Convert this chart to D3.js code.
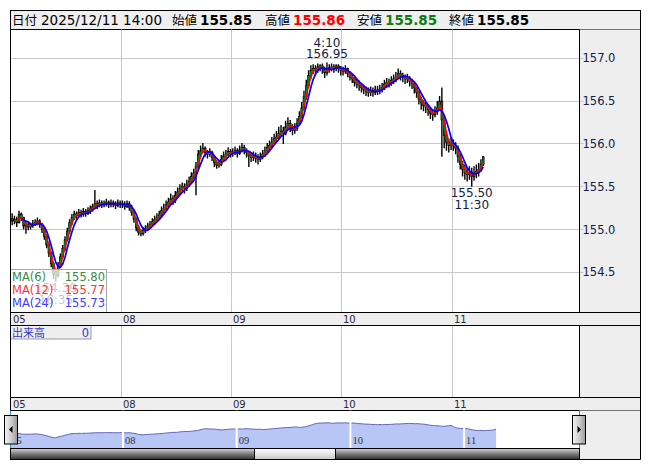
<!DOCTYPE html>
<html>
<head>
<meta charset="utf-8">
<script src="https://cdn.jsdelivr.net/npm/d3@7"></script>
<style>
body { margin: 0; background: #fff; }
text { font-family: "DejaVu Sans", Verdana, sans-serif; }
.jp { font-family: "Noto Sans CJK JP", sans-serif; }
</style>
</head>
<body>
<div id="chart"></div>
<script>

// 30-minute bars, days start 7:00
let days = ["05", "08", "09", "10", "11"];
let barsPerDay = 48;
let firstOpen = 155.13;

let closes = [
  155.10,155.12,155.08,155.18,155.14,155.04,155.06,155.03,155.05,155.07,155.08,155.10,155.06,155.00,154.92,154.82,
  154.72,154.60,154.48,154.46,154.58,154.68,154.78,154.88,154.98,155.08,155.14,155.18,155.16,155.20,155.18,155.21,
  155.19,155.22,155.24,155.27,155.30,155.28,155.31,155.29,155.30,155.32,155.29,155.31,155.30,155.28,155.31,155.30,
  // 08
  155.29,155.27,155.30,155.26,155.20,155.12,155.02,154.97,154.95,154.99,155.01,155.04,155.06,155.09,155.12,155.14,
  155.17,155.22,155.25,155.29,155.32,155.36,155.34,155.40,155.44,155.48,155.50,155.48,155.53,155.56,155.62,155.66,
  155.74,155.88,155.92,155.95,155.90,155.88,155.90,155.84,155.78,155.75,155.76,155.82,155.86,155.88,155.91,155.89,
  // 09
  155.90,155.92,155.89,155.93,155.96,155.92,155.90,155.86,155.84,155.86,155.83,155.82,155.85,155.88,155.92,155.96,
  155.98,156.02,156.06,156.08,156.12,156.15,156.12,156.20,156.24,156.20,156.16,156.18,156.24,156.32,156.42,156.55,
  156.68,156.80,156.86,156.88,156.86,156.90,156.91,156.88,156.83,156.86,156.89,156.90,156.88,156.91,156.88,156.86,
  // 10
  156.85,156.88,156.82,156.78,156.76,156.72,156.70,156.68,156.66,156.63,156.62,156.60,156.62,156.60,156.63,156.62,
  156.64,156.66,156.70,156.72,156.71,156.74,156.76,156.78,156.82,156.80,156.78,156.76,156.77,156.73,156.70,156.66,
  156.60,156.52,156.48,156.45,156.43,156.40,156.36,156.34,156.38,156.42,156.50,156.28,156.10,156.02,155.98,156.00,
  // 11
  155.98,155.95,155.85,155.76,155.70,155.66,155.64,155.67,155.62,155.66,155.68,155.70,155.76,155.85
];

let highs = [
  155.19,155.16,155.15,155.22,155.20,155.15,155.10,155.09,155.08,155.11,155.12,155.14,155.12,155.08,155.02,154.94,
  154.85,154.74,154.62,154.52,154.62,154.72,154.82,154.92,155.02,155.12,155.18,155.22,155.21,155.24,155.23,155.25,
  155.24,155.26,155.28,155.30,155.46,155.34,155.35,155.34,155.34,155.36,155.34,155.35,155.34,155.33,155.35,155.34,
  155.34,155.33,155.34,155.33,155.29,155.22,155.14,155.05,155.00,155.03,155.05,155.08,155.10,155.13,155.16,155.19,
  155.22,155.27,155.30,155.34,155.37,155.42,155.40,155.45,155.49,155.53,155.55,155.54,155.58,155.62,155.67,155.71,
  155.79,155.93,155.98,156.01,155.97,155.93,155.95,155.92,155.86,155.81,155.81,155.87,155.91,155.93,155.96,155.94,
  155.95,155.97,155.95,155.98,156.01,155.99,155.95,155.92,155.90,155.91,155.90,155.88,155.90,155.93,155.97,156.01,
  156.04,156.08,156.12,156.15,156.20,156.22,156.20,156.27,156.31,156.28,156.23,156.24,156.30,156.38,156.49,156.62,
  156.75,156.86,156.92,156.93,156.92,156.94,156.93,156.94,156.90,156.95,156.93,156.94,156.93,156.93,156.93,156.91,
  156.90,156.92,156.89,156.85,156.81,156.78,156.76,156.74,156.71,156.69,156.67,156.66,156.67,156.66,156.68,156.68,
  156.69,156.71,156.75,156.77,156.76,156.79,156.81,156.84,156.88,156.86,156.83,156.81,156.82,156.79,156.76,156.72,
  156.67,156.62,156.55,156.51,156.49,156.46,156.43,156.40,156.44,156.50,156.56,156.66,156.32,156.15,156.06,156.07,
  156.05,156.02,155.98,155.88,155.80,155.76,155.73,155.74,155.72,155.74,155.76,155.78,155.82,155.86
];

let lows = [
  155.05,155.06,155.03,155.07,155.10,155.00,154.95,154.99,155.00,155.02,155.04,155.05,155.02,154.96,154.88,154.78,
  154.68,154.56,154.42,154.39,154.44,154.55,154.66,154.75,154.86,154.95,155.05,155.11,155.12,155.14,155.14,155.15,
  155.15,155.17,155.18,155.21,155.24,155.24,155.26,155.25,155.26,155.27,155.25,155.26,155.26,155.24,155.26,155.25,
  155.25,155.23,155.25,155.22,155.16,155.08,154.98,154.93,154.92,154.93,154.96,154.99,155.01,155.04,155.06,155.09,
  155.11,155.15,155.19,155.22,155.26,155.30,155.29,155.31,155.37,155.41,155.44,155.42,155.45,155.50,155.54,155.59,
  155.40,155.72,155.85,155.89,155.85,155.83,155.85,155.80,155.73,155.71,155.72,155.74,155.80,155.83,155.86,155.84,
  155.85,155.87,155.84,155.87,155.90,155.88,155.84,155.73,155.79,155.80,155.78,155.76,155.79,155.82,155.85,155.89,
  155.92,155.95,156.00,156.02,156.05,156.09,156.00,156.10,156.17,156.14,156.10,156.12,156.15,156.22,156.30,156.40,
  156.52,156.65,156.76,156.82,156.80,156.83,156.85,156.82,156.77,156.80,156.83,156.85,156.83,156.85,156.83,156.80,
  156.80,156.82,156.78,156.74,156.71,156.67,156.65,156.62,156.60,156.58,156.56,156.55,156.56,156.55,156.57,156.57,
  156.58,156.60,156.63,156.66,156.66,156.68,156.70,156.72,156.76,156.74,156.72,156.70,156.71,156.67,156.64,156.59,
  156.54,156.46,156.40,156.38,156.36,156.33,156.29,156.27,156.31,156.34,156.40,155.85,155.95,155.92,155.90,155.93,
  155.92,155.88,155.78,155.70,155.62,155.58,155.56,155.58,155.50,155.57,155.60,155.62,155.68,155.74
];

let yTicks = [154.5, 155.0, 155.5, 156.0, 156.5, 157.0];

let maNames = ["MA(6)", "MA(12)", "MA(24)"];
let maWindows = [2, 3, 5];   // same span as 6/12/24 five-minute bars
let maLast = ["155.80", "155.77", "155.73"];
let maColors = ["#127a22", "#ff0000", "#0000ff"];
let maTextColors = ["#3a8a48", "#ff3030", "#3c3cff"];

let headerDate = "2025/12/11 14:00";
let headerLabels = ["始値", "高値", "安値", "終値"];
let headerValues = ["155.85", "155.86", "155.85", "155.85"];
let headerColors = ["#000", "#ff0000", "#117a11", "#000"];
let noteTimes = {high: "4:10", low: "16:35", recentLow: "11:30"};

let width = 653, height = 470;
let L = 10.5, R = 640.5, plotR = 579.5;
let mainTop = 29.5, mainBot = 312.5, volBot = 397.5, navTop = 410.5, navBot = 448.5, scrollBot = 459.5;

let x = d3.scaleLinear().domain([0, 248]).range([11.0, 580.9]);
let y = d3.scaleLinear().domain([154.5, 157.0]).range([272.3, 58.3]);
let xN = d3.scaleLinear().domain([0, 240]).range([9.3, 577.8]);
let yN = d3.scaleLinear().domain([152.8, 159.0]).range([448, 410]);

let opens = closes.map(function(d, i) { return i == 0 ? firstOpen : closes[i - 1]; });
let dayStarts = days.map(function(d, k) { return k * barsPerDay; });
function px(v) { return Math.floor(v) + 0.5; }

let svg = d3.select("#chart").append("svg")
    .attr("width", width).attr("height", height);

let defs = svg.append("defs");
defs.append("clipPath").attr("id", "clipMain").append("rect")
    .attr("x", L).attr("y", mainTop).attr("width", plotR - L).attr("height", mainBot - mainTop);
defs.append("clipPath").attr("id", "clipNav").append("rect")
    .attr("x", L).attr("y", navTop).attr("width", plotR - L).attr("height", navBot - navTop);

function grad(id, stops, horiz) {
    let g = defs.append("linearGradient").attr("id", id)
        .attr("x1", 0).attr("y1", 0).attr("x2", horiz ? 1 : 0).attr("y2", horiz ? 0 : 1);
    stops.forEach(function(s, i) {
        g.append("stop").attr("offset", i / (stops.length - 1)).attr("stop-color", s);
    });
}
grad("gTrack", ["#d4d4d4", "#7a7a7a", "#303030"], false);
grad("gThumb", ["#fbfbfb", "#e6e6e6", "#c4c4c4"], false);
grad("gBtn", ["#f4f4f4", "#cfcfcf", "#9a9a9a"], true);

svg.append("rect").attr("width", width).attr("height", height).attr("fill", "#fff");

// header
svg.append("rect").attr("x", L).attr("y", 10.5).attr("width", R - L).attr("height", 19)
    .attr("fill", "#efefef").attr("stroke", "#000");
let head = svg.append("g").attr("transform", "translate(0,24.5)");
head.append("text").attr("class", "jp").attr("x", 12).attr("font-size", "12.5px").text("日付");
head.append("text").attr("x", 41).attr("font-size", "13.5px").text(headerDate);
let labelX = [172, 265, 357, 449];
headerLabels.forEach(function(d, i) {
    head.append("text").attr("class", "jp").attr("x", labelX[i]).attr("font-size", "12.5px").text(d);
    head.append("text").attr("x", labelX[i] + 28).attr("font-size", "13.5px").attr("font-weight", "bold")
        .attr("fill", headerColors[i]).text(headerValues[i]);
});

// main panel
svg.append("rect").attr("x", plotR).attr("y", mainTop).attr("width", R - plotR).attr("height", mainBot - mainTop)
    .attr("fill", "#eeeeee");

let grid = svg.append("g").attr("stroke", "#c9c9c9").attr("stroke-width", 1);
yTicks.forEach(function(t) {
    grid.append("line").attr("x1", L).attr("x2", plotR + 4)
        .attr("y1", px(y(t))).attr("y2", px(y(t)));
});
dayStarts.slice(1).forEach(function(s) {
    grid.append("line").attr("x1", px(x(s))).attr("x2", px(x(s))).attr("y1", mainTop).attr("y2", mainBot);
    grid.append("line").attr("x1", px(x(s))).attr("x2", px(x(s))).attr("y1", mainBot + 13).attr("y2", volBot);
});

let plot = svg.append("g").attr("clip-path", "url(#clipMain)");

// candles
let candles = plot.selectAll(".candle").data(closes).enter().append("g");
candles.append("line")
    .attr("x1", function(d, i) { return x(i + 0.5); })
    .attr("x2", function(d, i) { return x(i + 0.5); })
    .attr("y1", function(d, i) { return y(highs[i]); })
    .attr("y2", function(d, i) { return y(lows[i]); })
    .attr("stroke", "#000").attr("stroke-width", 1.4);
candles.append("rect")
    .attr("x", function(d, i) { return x(i + 0.5) - 0.9; })
    .attr("width", 1.8)
    .attr("y", function(d, i) { return y(Math.max(d, opens[i])); })
    .attr("height", function(d, i) { return Math.max(1, Math.abs(y(d) - y(opens[i]))); })
    .attr("fill", function(d, i) { return d >= opens[i] ? "#0a8a1e" : "#d81010"; })
    .attr("stroke", "#000").attr("stroke-width", 0.7);

// moving averages
maWindows.forEach(function(w, k) {
    let pts = [];
    for (let i = w - 1; i < closes.length; i++) {
        pts.push([i, d3.mean(closes.slice(i - w + 1, i + 1))]);
    }
    plot.append("path").datum(pts)
        .attr("fill", "none").attr("stroke", maColors[k]).attr("stroke-width", k == 2 ? 1.7 : 1.4)
        .attr("d", d3.line().x(function(d) { return x(d[0] + 0.5); }).y(function(d) { return y(d[1]); }));
});

// high / low notes
let notes = svg.append("g").attr("fill", "#13203f").attr("font-size", "12px").attr("text-anchor", "middle");
let iHigh = d3.maxIndex(highs);
notes.append("text").attr("x", x(iHigh + 0.5)).attr("y", y(highs[iHigh]) - 16).text(noteTimes.high);
notes.append("text").attr("x", x(iHigh + 0.5)).attr("y", y(highs[iHigh]) - 5).text(highs[iHigh].toFixed(2));
let iLow = d3.minIndex(lows);
notes.append("text").attr("x", x(iLow + 0.5)).attr("y", y(lows[iLow]) + 10).text(lows[iLow].toFixed(2));
notes.append("text").attr("x", x(iLow + 0.5)).attr("y", y(lows[iLow]) + 22).text(noteTimes.low);
let lastDay = dayStarts[4];
let iLow2 = lastDay + d3.minIndex(lows.slice(lastDay));
notes.append("text").attr("x", x(iLow2 + 0.5)).attr("y", y(lows[iLow2]) + 10).text(lows[iLow2].toFixed(2));
notes.append("text").attr("x", x(iLow2 + 0.5)).attr("y", y(lows[iLow2]) + 22).text(noteTimes.recentLow);

// MA legend (semi-transparent box over the plot)
let leg = svg.append("g");
leg.append("rect").attr("x", L).attr("y", 269.5).attr("width", 96).attr("height", mainBot - 269.5)
    .attr("fill", "#fff").attr("fill-opacity", 0.75).attr("stroke", "#a8a8a8");
maNames.forEach(function(d, k) {
    leg.append("text").attr("x", 12).attr("y", 281 + k * 13).attr("font-size", "11.5px")
        .attr("fill", maTextColors[k]).text(d);
    leg.append("text").attr("x", 105).attr("y", 281 + k * 13).attr("font-size", "11.5px")
        .attr("text-anchor", "end").attr("fill", maTextColors[k]).text(maLast[k]);
});

// price axis
svg.selectAll(".ytick").data(yTicks).enter().append("text")
    .attr("x", 582.5).attr("y", function(d) { return y(d) + 4; })
    .attr("font-size", "11.5px").attr("fill", "#10204a")
    .text(d3.format(".1f"));

// volume panel
svg.append("rect").attr("x", plotR).attr("y", mainBot + 13).attr("width", R - plotR).attr("height", volBot - mainBot - 13)
    .attr("fill", "#eeeeee");
svg.append("rect").attr("x", L).attr("y", mainBot + 13).attr("width", 80.5).attr("height", 13.5)
    .attr("fill", "#eeeeee").attr("stroke", "#9a9a9a");
svg.append("text").attr("class", "jp").attr("x", 12).attr("y", 336.5).attr("font-size", "11px")
    .attr("fill", "#3535c8").text("出来高");
svg.append("text").attr("x", 89).attr("y", 336.5).attr("font-size", "11.5px").attr("text-anchor", "end")
    .attr("fill", "#3535c8").text("0");

// date strips
[mainBot, volBot].forEach(function(top) {
    svg.append("rect").attr("x", L).attr("y", top).attr("width", R - L).attr("height", 13)
        .attr("fill", "#eeeeee").attr("stroke", "#000");
    svg.selectAll(null).data(days).enter().append("text")
        .attr("x", function(d, k) { return px(x(dayStarts[k])) + 1.5; })
        .attr("y", top + 10.5).attr("font-size", "10px").attr("fill", "#2a2a3a")
        .text(function(d) { return d; });
});

// navigator
svg.append("rect").attr("x", plotR).attr("y", navTop).attr("width", R - plotR).attr("height", scrollBot - navTop)
    .attr("fill", "#eeeeee");
let nav = svg.append("g").attr("clip-path", "url(#clipNav)");
nav.append("path").datum(closes)
    .attr("fill", "#b7c6f5")
    .attr("d", d3.area().x(function(d, i) { return xN(i + 0.5); }).y0(448).y1(function(d) { return yN(d); }));
nav.append("path").datum(closes)
    .attr("fill", "none").attr("stroke", "#6464b4").attr("stroke-width", 1)
    .attr("d", d3.line().x(function(d, i) { return xN(i + 0.5); }).y(function(d) { return yN(d); }));
dayStarts.slice(1).forEach(function(s) {
    nav.append("line").attr("x1", xN(s)).attr("x2", xN(s)).attr("y1", navTop).attr("y2", navBot)
        .attr("stroke", "#fff").attr("stroke-width", 2);
});
nav.selectAll(".navlab").data(days).enter().append("text")
    .attr("x", function(d, k) { return xN(dayStarts[k]) + 2; })
    .attr("y", 443.5).attr("font-size", "10.5px").attr("fill", "#333")
    .style("font-family", "'Liberation Serif', serif")
    .text(function(d) { return d; });
[L, plotR].forEach(function(v) {
    svg.append("line").attr("x1", v).attr("x2", v).attr("y1", navTop).attr("y2", navBot)
        .attr("stroke", "#2b95cc");
});

// scrollbar
svg.append("rect").attr("x", L).attr("y", navBot).attr("width", plotR - L).attr("height", scrollBot - navBot)
    .attr("fill", "url(#gTrack)").attr("stroke", "#000");
svg.append("rect").attr("x", 254.5).attr("y", navBot).attr("width", 81).attr("height", scrollBot - navBot)
    .attr("fill", "url(#gThumb)").attr("stroke", "#000");

// navigator buttons
[[4.5, -1], [572.5, 1]].forEach(function(b) {
    svg.append("rect").attr("x", b[0]).attr("y", 415.5).attr("width", 13).attr("height", 28.5)
        .attr("fill", "url(#gBtn)").attr("stroke", "#000");
    let cx = b[0] + 6.5;
    svg.append("path").attr("fill", "#000")
        .attr("d", "M" + (cx + 2 * b[1]) + ",429.5 L" + (cx - 1.5 * b[1]) + ",426 L" + (cx - 1.5 * b[1]) + ",433 Z");
});

// frame
let frame = svg.append("g").attr("stroke", "#000").attr("fill", "none");
frame.append("line").attr("x1", L).attr("x2", L).attr("y1", 10.5).attr("y2", navTop);
frame.append("line").attr("x1", R).attr("x2", R).attr("y1", 10.5).attr("y2", scrollBot);
frame.append("line").attr("x1", plotR).attr("x2", R).attr("y1", scrollBot).attr("y2", scrollBot);
frame.append("line").attr("x1", plotR).attr("x2", plotR).attr("y1", mainTop).attr("y2", mainBot);
frame.append("line").attr("x1", plotR).attr("x2", plotR).attr("y1", mainBot + 13).attr("y2", volBot);
frame.append("line").attr("x1", plotR).attr("x2", plotR).attr("y1", navBot).attr("y2", scrollBot);

</script>
</body>
</html>
